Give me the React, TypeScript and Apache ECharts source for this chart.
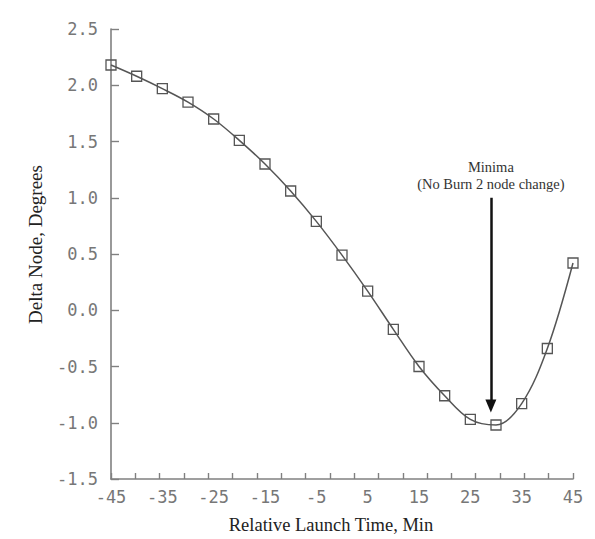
import React, { useEffect, useRef } from "react";
import * as echarts from "echarts";

// Data
const launchTimes = [-45, -40, -35, -30, -25, -20, -15, -10, -5, 0, 5, 10, 15, 20, 25, 30, 35, 40, 45];
const deltaNode = [2.18, 2.08, 1.97, 1.85, 1.70, 1.51, 1.30, 1.06, 0.79, 0.49, 0.17, -0.17, -0.50, -0.76, -0.97, -1.02, -0.83, -0.34, 0.42];
const xLabelValues = [-45, -35, -25, -15, -5, 5, 15, 25, 35, 45];
const minorTickCount = 19;

// Annotation
const arrowX = 29;
const arrowTop = 1.0;
const arrowEnd = -0.85;
const annotationText = "Minima\n(No Burn 2 node change)";

const X_TITLE = "Relative Launch Time, Min";
const Y_TITLE = "Delta Node, Degrees";

const axisGray = "#808080";
const labelGray = "#777777";
const monoFont = "'DejaVu Sans Mono', 'Liberation Mono', monospace";
const serifFont = "'Liberation Serif', 'DejaVu Serif', serif";

export default function App() {
  const ref = useRef<HTMLDivElement | null>(null);

  useEffect(() => {
    if (!ref.current) return;
    const chart = echarts.init(ref.current, undefined, { renderer: "svg" });
    const points = launchTimes.map((x, i) => [x, deltaNode[i]]);
    chart.setOption({
      animation: false,
      backgroundColor: "#ffffff",
      grid: { left: 111, right: 22, top: 29, bottom: 54, containLabel: false },
      xAxis: [
        {
          type: "value",
          min: -45,
          max: 45,
          interval: 5,
          position: "bottom",
          name: X_TITLE,
          nameLocation: "middle",
          nameGap: 36,
          nameTextStyle: {
            fontFamily: serifFont,
            fontSize: 18.5,
            color: "#222",
            padding: [0, 22, 0, 0],
          },
          axisLine: { show: true, onZero: false, lineStyle: { color: axisGray, width: 1.6 } },
          axisTick: { show: false },
          splitLine: { show: false },
          axisLabel: {
            show: true,
            interval: 0,
            margin: 9,
            fontFamily: monoFont,
            fontSize: 17,
            color: labelGray,
            formatter: (v: number) => (xLabelValues.includes(Math.round(v)) ? String(Math.round(v)) : ""),
          },
        },
        {
          type: "value",
          min: 0,
          max: minorTickCount,
          interval: 1,
          position: "bottom",
          axisLine: { show: false, onZero: false },
          axisLabel: { show: false },
          splitLine: { show: false },
          axisTick: { show: true, inside: true, length: 6, lineStyle: { color: axisGray, width: 1.4 } },
        },
      ],
      yAxis: {
        type: "value",
        min: -1.5,
        max: 2.5,
        interval: 0.5,
        position: "left",
        name: Y_TITLE,
        nameLocation: "middle",
        nameGap: 66,
        nameTextStyle: {
          fontFamily: serifFont,
          fontSize: 19,
          color: "#222",
          padding: [0, 0, 0, 19],
        },
        axisLine: { show: true, onZero: false, lineStyle: { color: axisGray, width: 1.6 } },
        axisTick: { show: true, inside: true, length: 8, lineStyle: { color: axisGray, width: 1.4 } },
        splitLine: { show: false },
        axisLabel: {
          margin: 13,
          fontFamily: monoFont,
          fontSize: 17,
          color: labelGray,
          formatter: (v: number) => v.toFixed(1),
        },
      },
      series: [
        {
          type: "line",
          data: points,
          smooth: 0.35,
          clip: false,
          symbol: "rect",
          symbolSize: 10,
          lineStyle: { color: "#555", width: 1.5 },
          itemStyle: { color: "rgba(255,255,255,0)", borderColor: "#555", borderWidth: 1.3 },
          markLine: {
            silent: true,
            symbol: ["none", "triangle"],
            symbolSize: [11, 13],
            lineStyle: { color: "#111", width: 2.5, type: "solid" },
            itemStyle: { color: "#111" },
            label: {
              show: true,
              position: "start",
              distance: 5,
              formatter: annotationText,
              fontFamily: serifFont,
              fontSize: 14.5,
              lineHeight: 17,
              color: "#333",
            },
            data: [[{ coord: [arrowX, arrowTop] }, { coord: [arrowX, arrowEnd] }]],
          },
        },
      ],
    });
    return () => chart.dispose();
  }, []);

  return (
    <div
      ref={ref}
      style={{ position: "fixed", left: 0, top: 0, width: 595, height: 539, background: "#fff" }}
    />
  );
}
